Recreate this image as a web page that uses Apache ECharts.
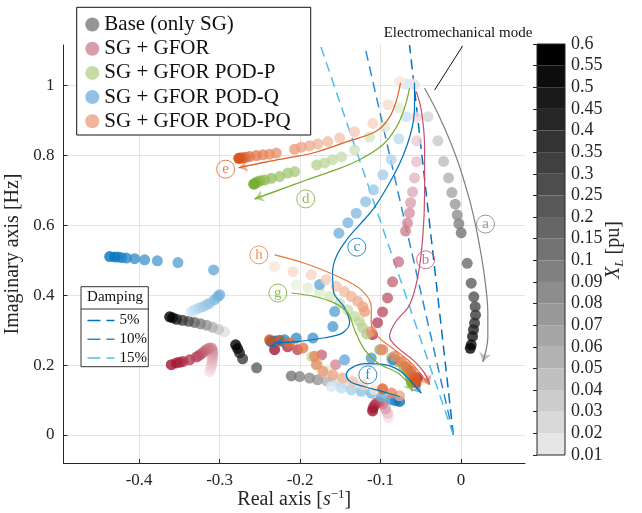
<!DOCTYPE html>
<html><head><meta charset="utf-8">
<script src="https://cdn.jsdelivr.net/npm/echarts@6/dist/echarts.min.js"></script>
<style>html,body{margin:0;padding:0;background:#fff}#c{width:642px;height:513px}</style>
</head><body><div id="c"></div>
<script>
const FONT = '"Liberation Serif", "DejaVu Serif", serif';
const INK = '#262626';

// ---------- axes / ticks ----------
const xTicks = [-0.4, -0.3, -0.2, -0.1, 0];
const yTicks = [0, 0.2, 0.4, 0.6, 0.8, 1];
const xlTicks = ['0.01','0.02','0.03','0.04','0.05','0.06','0.07','0.08','0.09','0.1',
                 '0.15','0.2','0.25','0.3','0.35','0.4','0.45','0.5','0.55','0.6'];

// ---------- eigenvalue trajectories: [real, imag(Hz), XL level index] ----------
const baseEM = [[-0.0578,1.001,0],[-0.0412,0.910,1],[-0.0288,0.841,2],[-0.0217,0.782,3],[-0.0155,0.735,4],[-0.0114,0.693,5],[-0.0072,0.660,6],[-0.0047,0.629,7],[-0.0027,0.604,8],[0.0002,0.578,9],[0.0077,0.491,10],[0.0127,0.434,11],[0.0159,0.395,12],[0.0176,0.367,13],[0.0180,0.343,14],[0.0168,0.320,15],[0.0155,0.301,16],[0.0143,0.282,17],[0.0127,0.258,18],[0.0115,0.248,19]];
const baseM2 = [[-0.1447,0.147,0],[-0.1559,0.152,2],[-0.1671,0.155,4],[-0.1783,0.158,6],[-0.1882,0.163,7],[-0.2006,0.167,8],[-0.2109,0.169,9],[-0.2540,0.192,11],[-0.2714,0.218,14],[-0.2752,0.235,16],[-0.2776,0.247,18],[-0.2801,0.258,19]];
const baseM3 = [[-0.2938,0.295,0],[-0.3012,0.302,2],[-0.3087,0.308,4],[-0.3161,0.314,6],[-0.3236,0.318,8],[-0.3311,0.322,10],[-0.3385,0.325,12],[-0.3460,0.328,14],[-0.3534,0.331,16],[-0.3584,0.335,18],[-0.3621,0.338,19]];

const gforEM = [[-0.0602,1.004,0],[-0.0553,0.909,1],[-0.0553,0.841,2],[-0.0553,0.781,3],[-0.0578,0.735,4],[-0.0602,0.695,5],[-0.0627,0.664,6],[-0.0640,0.635,7],[-0.0665,0.606,8],[-0.0689,0.583,9],[-0.0776,0.495,10],[-0.0851,0.438,11],[-0.0913,0.392,12],[-0.0975,0.352,13],[-0.1037,0.321,14],[-0.1099,0.287,15],[-0.1000,0.244,16],[-0.0826,0.216,17],[-0.0665,0.187,18],[-0.0540,0.164,19]];
const gforHook = [[-0.3124,0.181,0],[-0.3110,0.190,1],[-0.3103,0.199,2],[-0.3095,0.208,3],[-0.3091,0.217,4],[-0.3087,0.226,5],[-0.3083,0.235,6],[-0.3090,0.243,7],[-0.3103,0.249,8],[-0.3135,0.248,9],[-0.3165,0.244,10],[-0.3196,0.238,11],[-0.3227,0.232,12],[-0.3258,0.227,13],[-0.3289,0.223,14],[-0.3373,0.215,15],[-0.3456,0.210,16],[-0.3497,0.208,17],[-0.3538,0.206,18],[-0.3600,0.201,19]];
const gforBlob = [[-0.0901,0.050,0],[-0.0913,0.062,3],[-0.0938,0.075,6],[-0.0975,0.088,9],[-0.1012,0.094,11],[-0.1050,0.092,13],[-0.1075,0.085,15],[-0.1093,0.077,17],[-0.1099,0.069,19]];
const gforM4 = [[-0.1559,0.201,8],[-0.1733,0.229,11],[-0.2031,0.244,14],[-0.2155,0.252,16],[-0.2317,0.244,19]];

const podPEM = [[-0.0702,1.003,0],[-0.0776,0.935,1],[-0.0950,0.881,2],[-0.1137,0.852,3],[-0.1323,0.815,4],[-0.1484,0.795,5],[-0.1596,0.787,6],[-0.1696,0.778,7],[-0.1795,0.772,8],[-0.2068,0.753,10],[-0.2152,0.749,11],[-0.2255,0.739,12],[-0.2358,0.734,13],[-0.2441,0.729,14],[-0.2491,0.727,15],[-0.2528,0.724,16],[-0.2553,0.721,17],[-0.2565,0.718,18],[-0.2578,0.717,19]];
const podPG = [[-0.2047,0.429,0],[-0.1903,0.420,1],[-0.1758,0.410,2],[-0.1634,0.396,3],[-0.1509,0.377,4],[-0.1406,0.358,5],[-0.1323,0.339,6],[-0.1261,0.324,7],[-0.1224,0.307,8],[-0.1174,0.289,9],[-0.1012,0.244,10],[-0.0863,0.221,11],[-0.0789,0.210,12],[-0.0715,0.196,14],[-0.0665,0.182,16],[-0.0627,0.164,18],[-0.0615,0.150,19]];
const podPM3 = [[-0.1323,0.147,0],[-0.1509,0.163,1],[-0.1658,0.181,2],[-0.1783,0.204,4],[-0.1857,0.224,6]];

const podQEM = [[-0.0677,1.004,0],[-0.0681,0.910,1],[-0.0773,0.847,2],[-0.0867,0.787,3],[-0.0971,0.744,4],[-0.1087,0.701,5],[-0.1186,0.667,6],[-0.1302,0.634,7],[-0.1406,0.607,8],[-0.1518,0.577,9],[-0.1758,0.430,10],[-0.1571,0.353,11],[-0.1593,0.310,12],[-0.1841,0.277,13],[-0.2047,0.277,14],[-0.2193,0.272,15],[-0.2255,0.271,16],[-0.2304,0.269,17],[-0.2342,0.268,18],[-0.2366,0.267,19]];
const podQLeft = [[-0.3352,0.353,0],[-0.3320,0.356,1],[-0.3289,0.360,2],[-0.3248,0.364,3],[-0.3207,0.367,4],[-0.3165,0.372,5],[-0.3124,0.377,6],[-0.3062,0.387,7],[-0.3025,0.395,8],[-0.3000,0.401,9],[-0.3075,0.472,10],[-0.3518,0.493,11],[-0.3774,0.498,12],[-0.3932,0.501,13],[-0.4056,0.504,14],[-0.4159,0.506,15],[-0.4217,0.507,16],[-0.4263,0.509,17],[-0.4304,0.509,18],[-0.4366,0.510,19]];
const podQF = [[-0.1612,0.139,0],[-0.1488,0.134,2],[-0.1364,0.129,4],[-0.1240,0.125,6],[-0.1116,0.120,8],[-0.0991,0.110,10],[-0.0867,0.101,13],[-0.0814,0.098,16],[-0.0764,0.096,19]];
const podQM4 = [[-0.1447,0.215,10],[-0.1116,0.220,12],[-0.0851,0.215,14]];

const podPQEM = [[-0.0764,1.010,0],[-0.0909,0.944,1],[-0.1096,0.891,2],[-0.1323,0.867,3],[-0.1509,0.849,4],[-0.1655,0.839,5],[-0.1779,0.832,6],[-0.1882,0.827,7],[-0.1985,0.823,8],[-0.2068,0.817,9],[-0.2296,0.806,10],[-0.2379,0.803,11],[-0.2462,0.801,12],[-0.2544,0.799,13],[-0.2627,0.796,14],[-0.2677,0.794,15],[-0.2711,0.793,16],[-0.2739,0.792,17],[-0.2752,0.791,18],[-0.2764,0.791,19]];
const podPQH = [[-0.2317,0.482,0],[-0.2089,0.467,1],[-0.1861,0.458,2],[-0.1675,0.444,3],[-0.1550,0.425,4],[-0.1447,0.410,5],[-0.1364,0.396,6],[-0.1282,0.382,7],[-0.1220,0.367,8],[-0.1199,0.353,9],[-0.1116,0.296,10],[-0.0971,0.244,11],[-0.0826,0.225,12],[-0.0743,0.210,13],[-0.0681,0.196,14],[-0.0619,0.182,15],[-0.0590,0.169,16],[-0.0578,0.163,17],[-0.0565,0.155,18],[-0.0557,0.149,19]];
const podPQM3 = [[-0.1075,0.130,0],[-0.1220,0.144,2],[-0.1344,0.153,4],[-0.1468,0.163,6],[-0.1593,0.172,8],[-0.1717,0.182,10],[-0.1798,0.201,11],[-0.1820,0.225,12],[-0.1965,0.249,14],[-0.2130,0.263,16],[-0.2255,0.269,18],[-0.2379,0.272,19]];
const podPQM4 = [[-0.0764,0.112,8],[-0.0863,0.120,12],[-0.0975,0.132,17]];

// ---------- damping reference lines (from bottom to top of plot) ----------
const dampNames = ['5%', '10%', '15%'];
const dampLines = [
  [[-0.0095, 0], [-0.0640, 1.115]],
  [[-0.0095, 0], [-0.1199, 1.115]],
  [[-0.0095, 0], [-0.1749, 1.115]]
];

// ---------- annotation paths (data coords) ----------
const annPaths = {
  a: [[-0.0453,0.992],[-0.0267,0.909],[-0.0060,0.795],[0.0106,0.672],[0.0209,0.567],[0.0292,0.452],[0.0333,0.349],[0.0333,0.281],[0.0313,0.244],[0.0271,0.209]],
  b: [[-0.0557,0.982],[-0.0494,0.929],[-0.0453,0.825],[-0.0453,0.691],[-0.0475,0.567],[-0.0537,0.453],[-0.0640,0.372],[-0.0814,0.323],[-0.0888,0.282],[-0.0785,0.249],[-0.0599,0.215],[-0.0453,0.177],[-0.0391,0.144]],
  c: [[-0.0578,1.007],[-0.0578,0.938],[-0.0615,0.872],[-0.0727,0.795],[-0.0888,0.721],[-0.1087,0.647],[-0.1261,0.601],[-0.1422,0.558],[-0.1547,0.512],[-0.1596,0.467],[-0.1584,0.409],[-0.1447,0.364],[-0.1385,0.321],[-0.1472,0.292],[-0.1696,0.278],[-0.2031,0.267],[-0.2317,0.264]],
  d: [[-0.0640,0.992],[-0.0702,0.935],[-0.0801,0.881],[-0.0975,0.829],[-0.1286,0.784],[-0.1596,0.755],[-0.1919,0.729],[-0.2255,0.701],[-0.2565,0.675]],
  e: [[-0.0752,1.007],[-0.0801,0.958],[-0.0888,0.909],[-0.1050,0.869],[-0.1385,0.841],[-0.1795,0.809],[-0.2006,0.798],[-0.2416,0.781],[-0.2764,0.764]],
  f: [[-0.0764,0.110],[-0.0975,0.124],[-0.1199,0.138],[-0.1373,0.152],[-0.1426,0.172],[-0.1360,0.192],[-0.1186,0.204],[-0.0950,0.201],[-0.0764,0.184],[-0.0627,0.155],[-0.0494,0.120]],
  g: [[-0.2109,0.406],[-0.1820,0.396],[-0.1571,0.377],[-0.1406,0.349],[-0.1323,0.301],[-0.1199,0.244],[-0.1034,0.206],[-0.0785,0.177],[-0.0661,0.149],[-0.0599,0.125]],
  h: [[-0.2317,0.515],[-0.1944,0.491],[-0.1530,0.453],[-0.1240,0.415],[-0.1116,0.367],[-0.1116,0.320],[-0.1034,0.282],[-0.0826,0.244],[-0.0619,0.206],[-0.0494,0.172],[-0.0391,0.144]]
};
const annLabelPos = {a:[0.0304,0.603], b:[-0.0440,0.501], c:[-0.1295,0.537], d:[-0.1930,0.675], e:[-0.2925,0.760], f:[-0.1158,0.172], g:[-0.2276,0.406], h:[-0.2512,0.515]};
const leader = [[0.0019,1.112],[-0.0329,0.986]];

// ---------- styles ----------
const annColor = {a:'#7f7f7f', b:'#c0506c', c:'#0072bd', d:'#77ac30', e:'#df5f27', f:'#0072bd', g:'#77ac30', h:'#e8773a'};
const dampColors = ['#0072bd', '#2a8ad6', '#4dbeee'];
const configs = [
  {name:'Base (only SG)',      light:[224,224,224], dark:[0,0,0],      modes:[baseEM, baseM2, baseM3]},
  {name:'SG + GFOR',           light:[246,224,229], dark:[162,20,47],  modes:[gforEM, gforHook, gforBlob, gforM4]},
  {name:'SG + GFOR POD-P',     light:[233,242,221], dark:[119,172,48], modes:[podPEM, podPG, podPM3]},
  {name:'SG + GFOR POD-Q',     light:[214,232,246], dark:[0,114,189],  modes:[podQEM, podQLeft, podQF, podQM4]},
  {name:'SG + GFOR POD-PQ',    light:[251,227,215], dark:[217,83,25],  modes:[podPQEM, podPQH, podPQM3, podPQM4]}
];
const nLev = xlTicks.length - 1;
const mix = (a, b, t) => 'rgb(' + a.map((v, i) => Math.round(v + (b[i] - v) * t)).join(',') + ')';

const series = [];
dampLines.forEach((seg, i) => {
  series.push({type:'line', name: dampNames[i], data: seg, symbol:'none', showSymbol:false, silent:true, z:1,
    lineStyle:{color: dampColors[i], width:1.5, type:[10,6]}, itemStyle:{color: dampColors[i]}});
});
configs.forEach((cfg, ci) => {
  cfg.modes.forEach(mode => {
    series.push({type:'scatter', name: cfg.name, symbolSize: 11, z: 2 + ci * 0.01,
      itemStyle:{color: mix(cfg.light, cfg.dark, 0.45)},
      data: mode.map(p => ({value:[p[0], p[1]], itemStyle:{color: mix(cfg.light, cfg.dark, p[2] / nLev)}}))
    });
  });
});
Object.keys(annPaths).forEach(k => {
  const pts = annPaths[k];
  series.push({type:'line', name:'ann-' + k, data: pts, smooth: 0.35, symbol:'none', silent:true, z:5,
    lineStyle:{color: annColor[k], width:1.2}});
  series.push({type:'lines', name:'arr-' + k, coordinateSystem:'cartesian2d', silent:true, z:5,
    symbol:['none','arrow'], symbolSize:[0, 9],
    lineStyle:{color: annColor[k], width:1.2},
    data:[{coords:[pts[pts.length - 2], pts[pts.length - 1]]}]});
});
series.push({type:'scatter', name:'labels', silent:true, z:6, symbol:'circle', symbolSize:18,
  data: Object.keys(annLabelPos).map(k => ({value: annLabelPos[k],
    itemStyle:{color:'rgba(255,255,255,0)', borderColor: annColor[k], borderWidth:1},
    label:{show:true, position:'inside', formatter:k, color: annColor[k], fontFamily: FONT, fontSize:15}}))
});
series.push({type:'line', name:'leader', data: leader, symbol:'none', silent:true, z:5,
  lineStyle:{color:'#111', width:1}});
const bandIdx = xlTicks.slice(0, nLev).map((_, i) => [0, i]);
series.push({type:'custom', name:'cbar', xAxisIndex:1, yAxisIndex:1, silent:true, data: bandIdx,
  renderItem: (params, api) => {
    const i = api.value(1);
    const p0 = api.coord([0, i]), p1 = api.coord([1, i + 1]);
    const g = Math.round(230 * (1 - i / (nLev - 1)));
    return {type:'rect', shape:{x:p0[0], y:p1[1], width:p1[0]-p0[0], height:p0[1]-p1[1]},
      style:{fill:'rgb(' + g + ',' + g + ',' + g + ')'}};
  }});
series.push({type:'custom', name:'cbar-frame', xAxisIndex:1, yAxisIndex:1, silent:true, z:3, data:[[0,0]],
  renderItem: (params, api) => {
    const p0 = api.coord([0, 0]), p1 = api.coord([1, nLev]);
    return {type:'rect', shape:{x:p0[0], y:p1[1], width:p1[0]-p0[0], height:p0[1]-p1[1]},
      style:{fill:'none', stroke: INK, lineWidth:1}};
  }});

const fmt = v => String(+(+v).toFixed(2));
const option = {
  animation:false,
  backgroundColor:'#fff',
  grid:[
    {left:63.5, right:117, top:45, bottom:50, outerBoundsMode:'none', containLabel:false},
    {left:537, width:28, top:44, bottom:58, outerBoundsMode:'none', containLabel:false}
  ],
  xAxis:[
    {gridIndex:0, type:'value', min:-0.494, max:0.0795,
      axisLine:{show:true, onZero:false, lineStyle:{color:INK}},
      axisTick:{show:true, inside:true, length:4, customValues:xTicks, lineStyle:{color:INK}},
      axisLabel:{customValues:xTicks, formatter:fmt, fontFamily:FONT, fontSize:17, color:INK, margin:9},
      splitLine:{show:true, lineStyle:{color:'#e4e4e4', width:1}},
      name:'{t|Real axis [}{i|s}{sup|−1}{t|]}', nameLocation:'middle', nameGap:25, nameMoveOverlap:false,
      nameTextStyle:{rich:{
        t:{fontFamily:FONT, fontSize:20, color:INK, lineHeight:24},
        i:{fontFamily:FONT, fontSize:20, fontStyle:'italic', color:INK, lineHeight:24},
        sup:{fontFamily:FONT, fontSize:13, color:INK, verticalAlign:'top', lineHeight:14}}}},
    {gridIndex:1, type:'value', min:0, max:1, show:false}
  ],
  yAxis:[
    {gridIndex:0, type:'value', min:-0.08, max:1.115,
      axisLine:{show:true, onZero:false, lineStyle:{color:INK}},
      axisTick:{show:true, inside:true, length:4, customValues:yTicks, lineStyle:{color:INK}},
      axisLabel:{customValues:yTicks, formatter:fmt, fontFamily:FONT, fontSize:17, color:INK, margin:9},
      splitLine:{show:true, lineStyle:{color:'#e4e4e4', width:1}},
      name:'Imaginary axis [Hz]', nameLocation:'middle', nameGap:36,
      nameTextStyle:{fontFamily:FONT, fontSize:20, color:INK}},
    {gridIndex:1, type:'value', min:0, max:nLev, position:'right',
      axisLine:{show:false},
      axisTick:{show:true, inside:true, length:4, customValues:xlTicks.map((_, i) => i), lineStyle:{color:INK}},
      axisLabel:{customValues:xlTicks.map((_, i) => i), formatter: v => xlTicks[Math.round(v)], fontFamily:FONT, fontSize:18, color:INK, margin:6},
      splitLine:{show:false}}
  ],
  legend:[
    {data: configs.map(c => c.name), orient:'vertical', left:85.3, top:14, padding:0, itemGap:3.2,
      itemWidth:14, itemHeight:14, icon:'circle', selectedMode:false, z:10,
      textStyle:{fontFamily:FONT, fontSize:21, color:'#111', lineHeight:20}},
    {data: dampNames, orient:'vertical', left:86.7, top:313, padding:0, itemGap:3.7,
      itemWidth:27, itemHeight:14, selectedMode:false, z:10,
      itemStyle:{opacity:0},
      lineStyle:{type:[13,6], width:1.5},
      textStyle:{fontFamily:FONT, fontSize:15, color:'#111', lineHeight:14}}
  ],
  graphic:[
    {type:'rect', z:8, shape:{x:76.7, y:7.3, width:234, height:127.7}, style:{fill:'#fff', stroke:'#111', lineWidth:1}},
    {type:'rect', z:8, shape:{x:81, y:286.7, width:67.3, height:80}, style:{fill:'#fff', stroke:'#333', lineWidth:1}},
    {type:'line', z:9, shape:{x1:81, y1:309, x2:148.3, y2:309}, style:{stroke:'#333', lineWidth:1}},
    {type:'text', z:9, x:115, y:297.5, style:{text:'Damping', font:'15px ' + FONT, fill:'#111', textAlign:'center', textVerticalAlign:'middle'}},
    {type:'text', z:9, x:458, y:33, style:{text:'Electromechanical mode', font:'15px ' + FONT, fill:'#111', textAlign:'center', textVerticalAlign:'middle'}},
    {type:'text', z:9, x:614, y:250, rotation:Math.PI/2,
      style:{text:'{x|X}{s|L}{t| [pu]}', textAlign:'center', textVerticalAlign:'middle',
        rich:{x:{fontFamily:FONT, fontSize:20, fontStyle:'italic', fill:INK, lineHeight:24},
              s:{fontFamily:FONT, fontSize:13, fontStyle:'italic', fill:INK, verticalAlign:'bottom', lineHeight:14},
              t:{fontFamily:FONT, fontSize:20, fill:INK, lineHeight:24}}}}
  ],
  series: series
};
echarts.init(document.getElementById('c'), null, {renderer:'canvas'}).setOption(option);
</script>
</body></html>
